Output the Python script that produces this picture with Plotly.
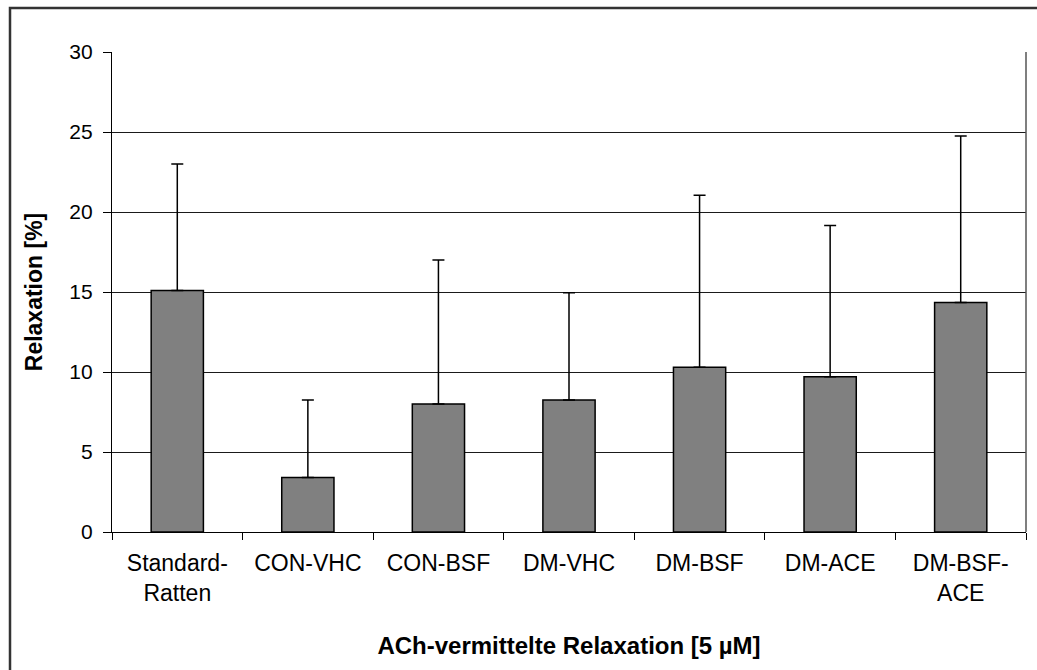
import plotly.graph_objects as go

categories = ["Standard-<br>Ratten", "CON-VHC", "CON-BSF", "DM-VHC", "DM-BSF", "DM-ACE", "DM-BSF-<br>ACE"]
means = [15.1, 3.4, 8.0, 8.25, 10.3, 9.7, 14.35]
sd = [7.9, 4.85, 9.0, 6.7, 10.75, 9.45, 10.4]
zeros = [0, 0, 0, 0, 0, 0, 0]

y_ticks = [0, 5, 10, 15, 20, 25, 30]

FONT = "Liberation Sans, Arial, sans-serif"

W, H = 1037, 670
L, T = 112, 52
R, B = 11, 138
PW, PH = W - L - R, H - T - B

fig = go.Figure()
fig.add_trace(go.Bar(
    x=categories,
    y=means,
    width=0.4,
    marker=dict(color="#808080", line=dict(color="#000000", width=1.5)),
    error_y=dict(type="data", array=sd, arrayminus=zeros, symmetric=False,
                 color="#000000", thickness=1.5, width=6),
    showlegend=False,
))

fig.update_layout(
    width=W, height=H,
    margin=dict(l=L, r=R, t=T, b=B, pad=0),
    paper_bgcolor="white", plot_bgcolor="white",
    font=dict(family=FONT, color="#000000"),
    xaxis=dict(
        type="category",
        showline=True, linecolor="#000000", linewidth=1.2,
        ticks="outside", ticklen=7, tickcolor="#000000", tickwidth=1.2,
        tickson="boundaries",
        ticklabelstandoff=10,
        showgrid=False,
        tickfont=dict(size=23, family=FONT),
        title=dict(text="<b>ACh-vermittelte Relaxation [5 µM]</b>",
                   font=dict(size=24, family=FONT), standoff=32),
    ),
    yaxis=dict(
        range=[0, 30], tickvals=y_ticks,
        showline=True, linecolor="#000000", linewidth=1.2,
        ticks="outside", ticklen=8, tickcolor="#000000", tickwidth=1.2,
        ticklabelstandoff=6,
        showgrid=True, gridcolor="#1a1a1a", gridwidth=1,
        zeroline=False,
        tickfont=dict(size=21, family=FONT),
        title=dict(text="<b>Relaxation [%]</b>", font=dict(size=23, family=FONT), standoff=20),
    ),
)

# right edge of plot area
fig.add_shape(type="line", xref="paper", yref="paper", x0=1, x1=1, y0=0, y1=1,
              line=dict(color="#555555", width=1.5))
# outer chart border (extends past right and bottom of the picture)
fig.add_shape(type="rect", xref="paper", yref="paper",
              x0=-(L - 10) / PW, x1=1.5, y0=-1.0, y1=1 + (T - 8) / PH,
              line=dict(color="#333333", width=2.5), layer="above")

fig.write_html(
    "out.html",
    config={"displayModeBar": False},
    post_script="document.body.style.margin='0';document.body.style.overflow='hidden';",
)
